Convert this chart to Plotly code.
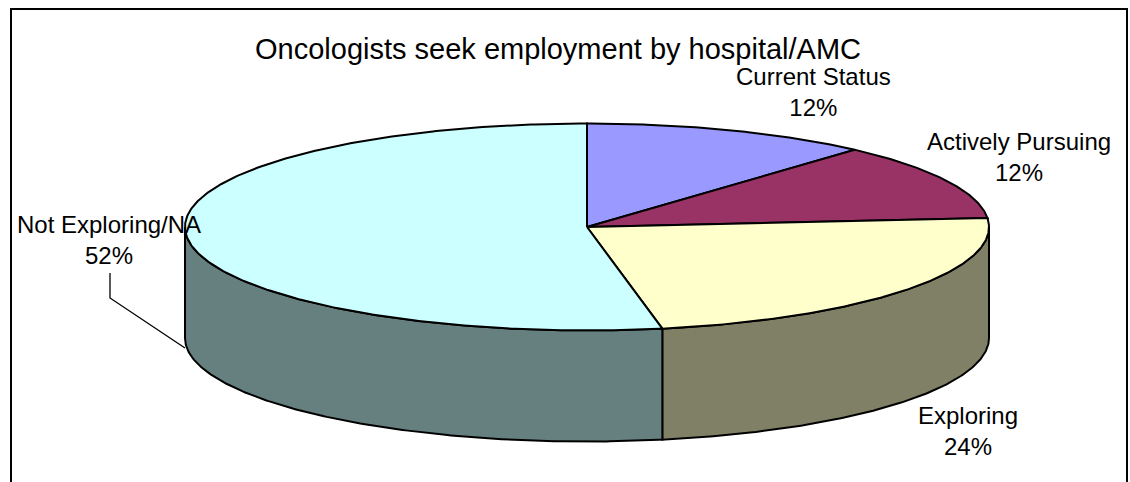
import numpy as np
import plotly.graph_objects as go

categories = ["Current Status", "Actively Pursuing", "Exploring", "Not Exploring/NA"]
percent_labels = [12, 12, 24, 52]
drawn_shares = [11.6, 12.0, 23.4, 53.0]
top_colors = ["#9999FF", "#993366", "#FFFFCC", "#CCFFFF"]
side_colors = ["#4D4D80", "#4D1A33", "#808066", "#668080"]
label_x = [813, 1019, 968, 109]
label_y = [92, 157, 431, 240]
title_text = "Oncologists seek employment by hospital/AMC"

CX, CY, RX, RY, DEPTH = 587, 227, 402, 103.5, 111


def rim(a0, a1, dy=0.0):
    t = np.radians(np.linspace(a0, a1, max(2, int(abs(a1 - a0) * 2) + 1)))
    return CX + RX * np.sin(t), CY + dy - RY * np.cos(t)


fig = go.Figure()
edges = np.concatenate([[0], np.cumsum(drawn_shares)]) / sum(drawn_shares) * 360

# outer wall: only the front half of the rim (90 to 270 degrees) is visible
for i, cat in enumerate(categories):
    a0, a1 = max(edges[i], 90), min(edges[i + 1], 270)
    if a1 > a0:
        xt, yt = rim(a0, a1)
        xb, yb = rim(a0, a1, DEPTH)
        fig.add_trace(go.Scatter(
            x=np.concatenate([xt, xb[::-1], xt[:1]]), y=np.concatenate([yt, yb[::-1], yt[:1]]),
            mode="lines", fill="toself", fillcolor=side_colors[i],
            line=dict(color="black", width=2), hoverinfo="skip", showlegend=False))

# top face
for i, cat in enumerate(categories):
    xr, yr = rim(edges[i], edges[i + 1])
    fig.add_trace(go.Scatter(
        x=np.concatenate([[CX], xr, [CX]]), y=np.concatenate([[CY], yr, [CY]]),
        mode="lines", fill="toself", fillcolor=top_colors[i],
        line=dict(color="black", width=2), name=cat, showlegend=False))

# leader line of the largest slice
fig.add_trace(go.Scatter(x=[110, 110, 185], y=[273, 298, 348], mode="lines",
                         line=dict(color="black", width=1.3), hoverinfo="skip", showlegend=False))

for cat, pct, x, y in zip(categories, percent_labels, label_x, label_y):
    fig.add_annotation(x=x, y=y, text=f"{cat}<br>{pct}%", showarrow=False, align="center",
                       font=dict(family="Liberation Sans", size=24, color="black"))

fig.add_annotation(x=558, y=49, text=title_text, showarrow=False,
                   font=dict(family="Liberation Sans", size=29, color="black"))

# chart frame, open at the bottom of the crop
fig.add_shape(type="rect", x0=11, y0=9, x1=1127, y1=495, line=dict(color="black", width=2))

fig.update_layout(
    width=1130, height=482, margin=dict(l=0, r=0, t=0, b=0),
    paper_bgcolor="white", plot_bgcolor="white", showlegend=False,
    xaxis=dict(range=[0, 1130], visible=False, fixedrange=True),
    yaxis=dict(range=[482, 0], visible=False, fixedrange=True),
)
fig.write_html("out.html", config={"displayModeBar": False},
               post_script="document.body.style.margin='0';document.body.style.overflow='hidden';")
